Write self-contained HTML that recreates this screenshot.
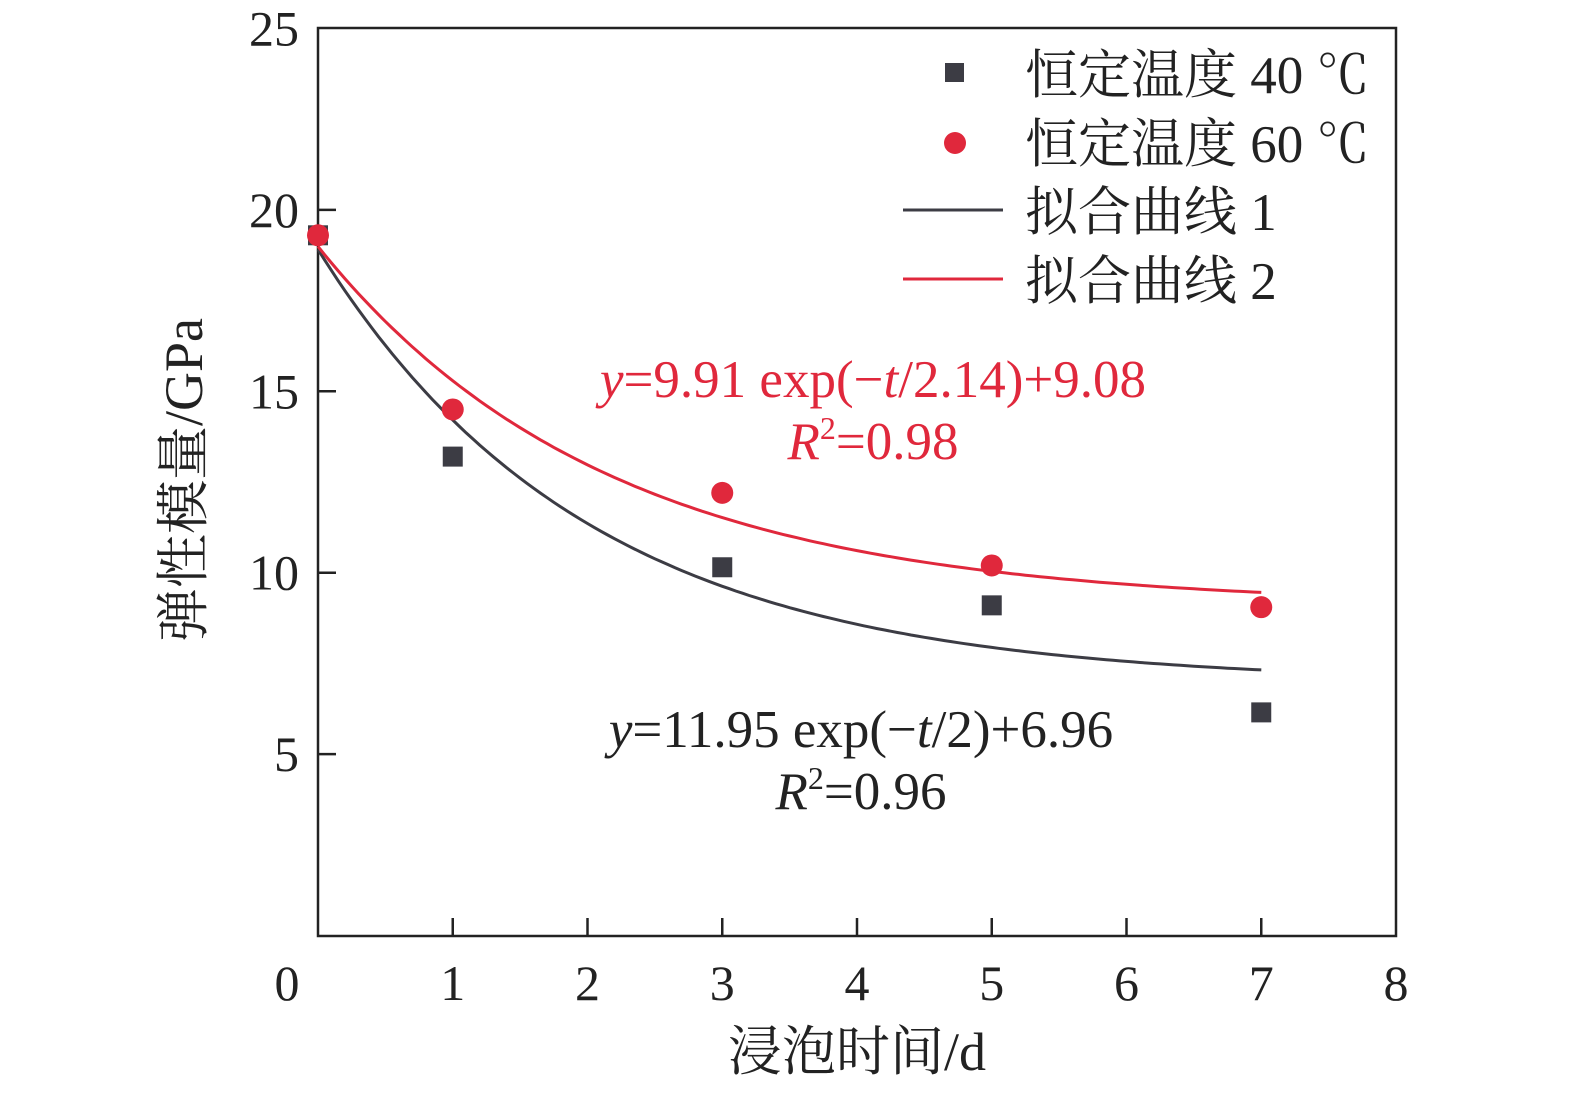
<!DOCTYPE html>
<html><head><meta charset="utf-8"><style>
html,body{margin:0;padding:0;background:#fff;overflow:hidden;width:1575px;height:1093px;}
svg{display:block;font-family:"Liberation Serif","Noto Serif CJK SC",serif;}
</style></head><body>
<svg id="chart" width="1575" height="1093" viewBox="0 0 1575 1093">
<g id="axes"></g>
<g id="curves"></g>
<g id="points"></g>
<g>
  <rect x="945" y="63" width="19" height="19" fill="#3c3c44"/>
  <text x="1025" y="93" font-size="53" fill="#222">恒定温度 40 ℃</text>
  <circle cx="955" cy="143" r="11" fill="#e0283c"/>
  <text x="1025" y="162" font-size="53" fill="#222">恒定温度 60 ℃</text>
  <line x1="903" y1="210" x2="1003" y2="210" stroke="#3c3c44" stroke-width="3"/>
  <text x="1025" y="230" font-size="53" fill="#222">拟合曲线 1</text>
  <line x1="903" y1="279" x2="1003" y2="279" stroke="#e0283c" stroke-width="3"/>
  <text x="1025" y="299" font-size="53" fill="#222">拟合曲线 2</text>
</g>
<g fill="#e0283c" font-size="53">
  <text x="873" y="397" text-anchor="middle"><tspan font-style="italic">y</tspan>=9.91 exp(−<tspan font-style="italic">t</tspan>/2.14)+9.08</text>
  <text x="873" y="459" text-anchor="middle"><tspan font-style="italic">R</tspan><tspan font-size="32" dy="-20">2</tspan><tspan dy="20">=0.98</tspan></text>
</g>
<g fill="#222" font-size="53">
  <text x="861" y="747" text-anchor="middle"><tspan font-style="italic">y</tspan>=11.95 exp(−<tspan font-style="italic">t</tspan>/2)+6.96</text>
  <text x="861" y="809" text-anchor="middle"><tspan font-style="italic">R</tspan><tspan font-size="32" dy="-20">2</tspan><tspan dy="20">=0.96</tspan></text>
</g>
<text x="202" y="480" font-size="54" fill="#222" text-anchor="middle" transform="rotate(-90 202 480)">弹性模量/GPa</text>
<text x="857" y="1070" font-size="54" fill="#222" text-anchor="middle">浸泡时间/d</text>
</svg>
<script>
const days = [0, 1, 3, 5, 7];
const modulus40 = [19.3, 13.2, 10.15, 9.1, 6.15];
const modulus60 = [19.3, 14.5, 12.2, 10.2, 9.05];
const fit1 = [11.95, 2, 6.96];
const fit2 = [9.91, 2.14, 9.08];
const xTicks = [0, 1, 2, 3, 4, 5, 6, 7, 8];
const yTicks = [5, 10, 15, 20, 25];

const NS = "http://www.w3.org/2000/svg";
const X0 = 318, X1 = 1396, Y0 = 935.5, Y1 = 28.5;
const xs = v => X0 + v / 8 * (X1 - X0);
const ys = v => Y0 - v / 25 * (Y0 - Y1);
function mk(tag, attrs, parent) {
  const e = document.createElementNS(NS, tag);
  for (const k in attrs) e.setAttribute(k, attrs[k]);
  parent.appendChild(e);
  return e;
}
const axes = document.getElementById('axes');
const frame = mk('rect', {x: X0, y: 28, width: X1 - X0, height: 936 - 28, fill: 'none', stroke: '#222', 'stroke-width': 2.5}, axes);


xTicks.forEach(t => {
  if (t > 0 && t < 8) {
    const l = mk('line', {x1: xs(t), x2: xs(t), y1: 936, y2: 918, stroke: '#222', 'stroke-width': 2.5}, axes);
    
    
  }
  const tx = mk('text', {x: t === 0 ? 287 : xs(t), y: 1000, 'font-size': 50, fill: '#222', 'text-anchor': 'middle'}, axes);
  tx.textContent = t;
  
  
});
yTicks.forEach(t => {
  if (t < 25) {
    const l = mk('line', {x1: X0, x2: X0 + 18, y1: ys(t), y2: ys(t), stroke: '#222', 'stroke-width': 2.5}, axes);
    
    
  }
  const tx = mk('text', {x: 299, y: ys(t) + 17, 'font-size': 50, fill: '#222', 'text-anchor': 'end'}, axes);
  tx.textContent = t;
  
  
});
const curves = document.getElementById('curves');
function curve(p, color, name) {
  let d = '';
  for (let i = 0; i <= 140; i++) {
    const t = 7 * i / 140;
    const v = p[0] * Math.exp(-t / p[1]) + p[2];
    d += (i ? 'L' : 'M') + xs(t).toFixed(1) + ',' + ys(v).toFixed(1);
  }
  const e = mk('path', {d: d, fill: 'none', stroke: color, 'stroke-width': 3}, curves);
  
  
}
curve(fit1, '#3c3c44', 'fit-curve-1');
curve(fit2, '#e0283c', 'fit-curve-2');
const pts = document.getElementById('points');
days.forEach((d, i) => {
  const s = mk('rect', {x: xs(d) - 10, y: ys(modulus40[i]) - 10, width: 20, height: 20, fill: '#3c3c44'}, pts);
  
  
});
days.forEach((d, i) => {
  const c = mk('circle', {cx: xs(d), cy: ys(modulus60[i]), r: 11, fill: '#e0283c'}, pts);
  
  
});
</script>
</body></html>
